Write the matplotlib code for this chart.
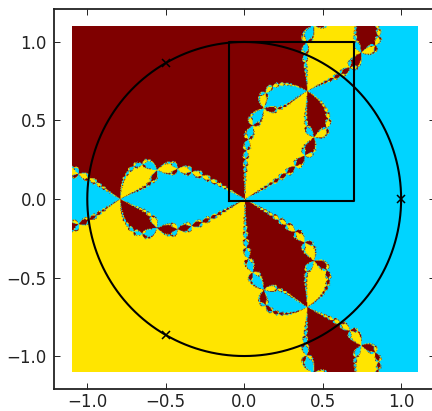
import numpy as np
import matplotlib
matplotlib.use("Agg")
import matplotlib.pyplot as plt

# Values
root_re = [1.0, -0.5, -0.5]
root_im = [0.0, 0.866, -0.866]
root_level = [1 / 3, 1.0, 2 / 3]   # jet level of each root's basin
field_extent = [-1.1, 1.1, -1.1, 1.1]
box_x = [-0.1, 0.7, 0.7, -0.1, -0.1]
box_y = [-0.01, -0.01, 1.0, 1.0, -0.01]
xticks = [-1.0, -0.5, 0.0, 0.5, 1.0]
yticks = [-1.0, -0.5, 0.0, 0.5, 1.0]
tick_labels = ["\u22121.0", "\u22120.5", "0.0", "0.5", "1.0"]
grid_size = 500
iterations = 60

# NOTE: the basin field is computed by Newton iteration on the roots above,
# not read cell by cell from the picture.
roots = np.array(root_re) + 1j * np.array(root_im)
xs = np.linspace(field_extent[0], field_extent[1], grid_size)
ys = np.linspace(field_extent[2], field_extent[3], grid_size)
z = xs[None, :] + 1j * ys[:, None]
with np.errstate(all="ignore"):
    for _ in range(iterations):
        z = z - (z**3 - 1) / (3 * z**2)
z = np.nan_to_num(z, nan=1.0, posinf=1.0, neginf=1.0)
nearest = np.argmin(np.abs(z[..., None] - roots), axis=-1)
field = np.array(root_level)[nearest]

W, H = 432, 411
fig = plt.figure(figsize=(W / 100, H / 100), dpi=100)
ax = fig.add_axes([53.7 / W, 1 - 389 / H, 381 / W, 380 / H])
ax.imshow(field, origin="lower", extent=field_extent, cmap="jet", vmin=0, vmax=1,
          interpolation="antialiased", interpolation_stage="rgba", aspect="auto")

t = np.radians(np.arange(0, 361, 1))
ax.plot(np.cos(t), np.sin(t), color="k", lw=1.5)
ax.plot(box_x, box_y, color="k", lw=1.5)
ax.plot(root_re, root_im, "x", color="k", ms=6, mew=1.1)

ax.set_xlim(-1.214, 1.214)
ax.set_ylim(-1.21, 1.21)
ax.set_xticks(xticks, tick_labels)
ax.set_yticks(yticks, tick_labels)
ax.tick_params(direction="in", length=4.5, width=0.7, top=True, right=True,
               labelsize=12, color="#222222", labelcolor="#222222")
ax.tick_params(axis="x", pad=3)
ax.tick_params(axis="y", pad=5)
for s in ax.spines.values():
    s.set_linewidth(1.3)
    s.set_color("#222222")
fig.savefig("out.png", dpi=100)
